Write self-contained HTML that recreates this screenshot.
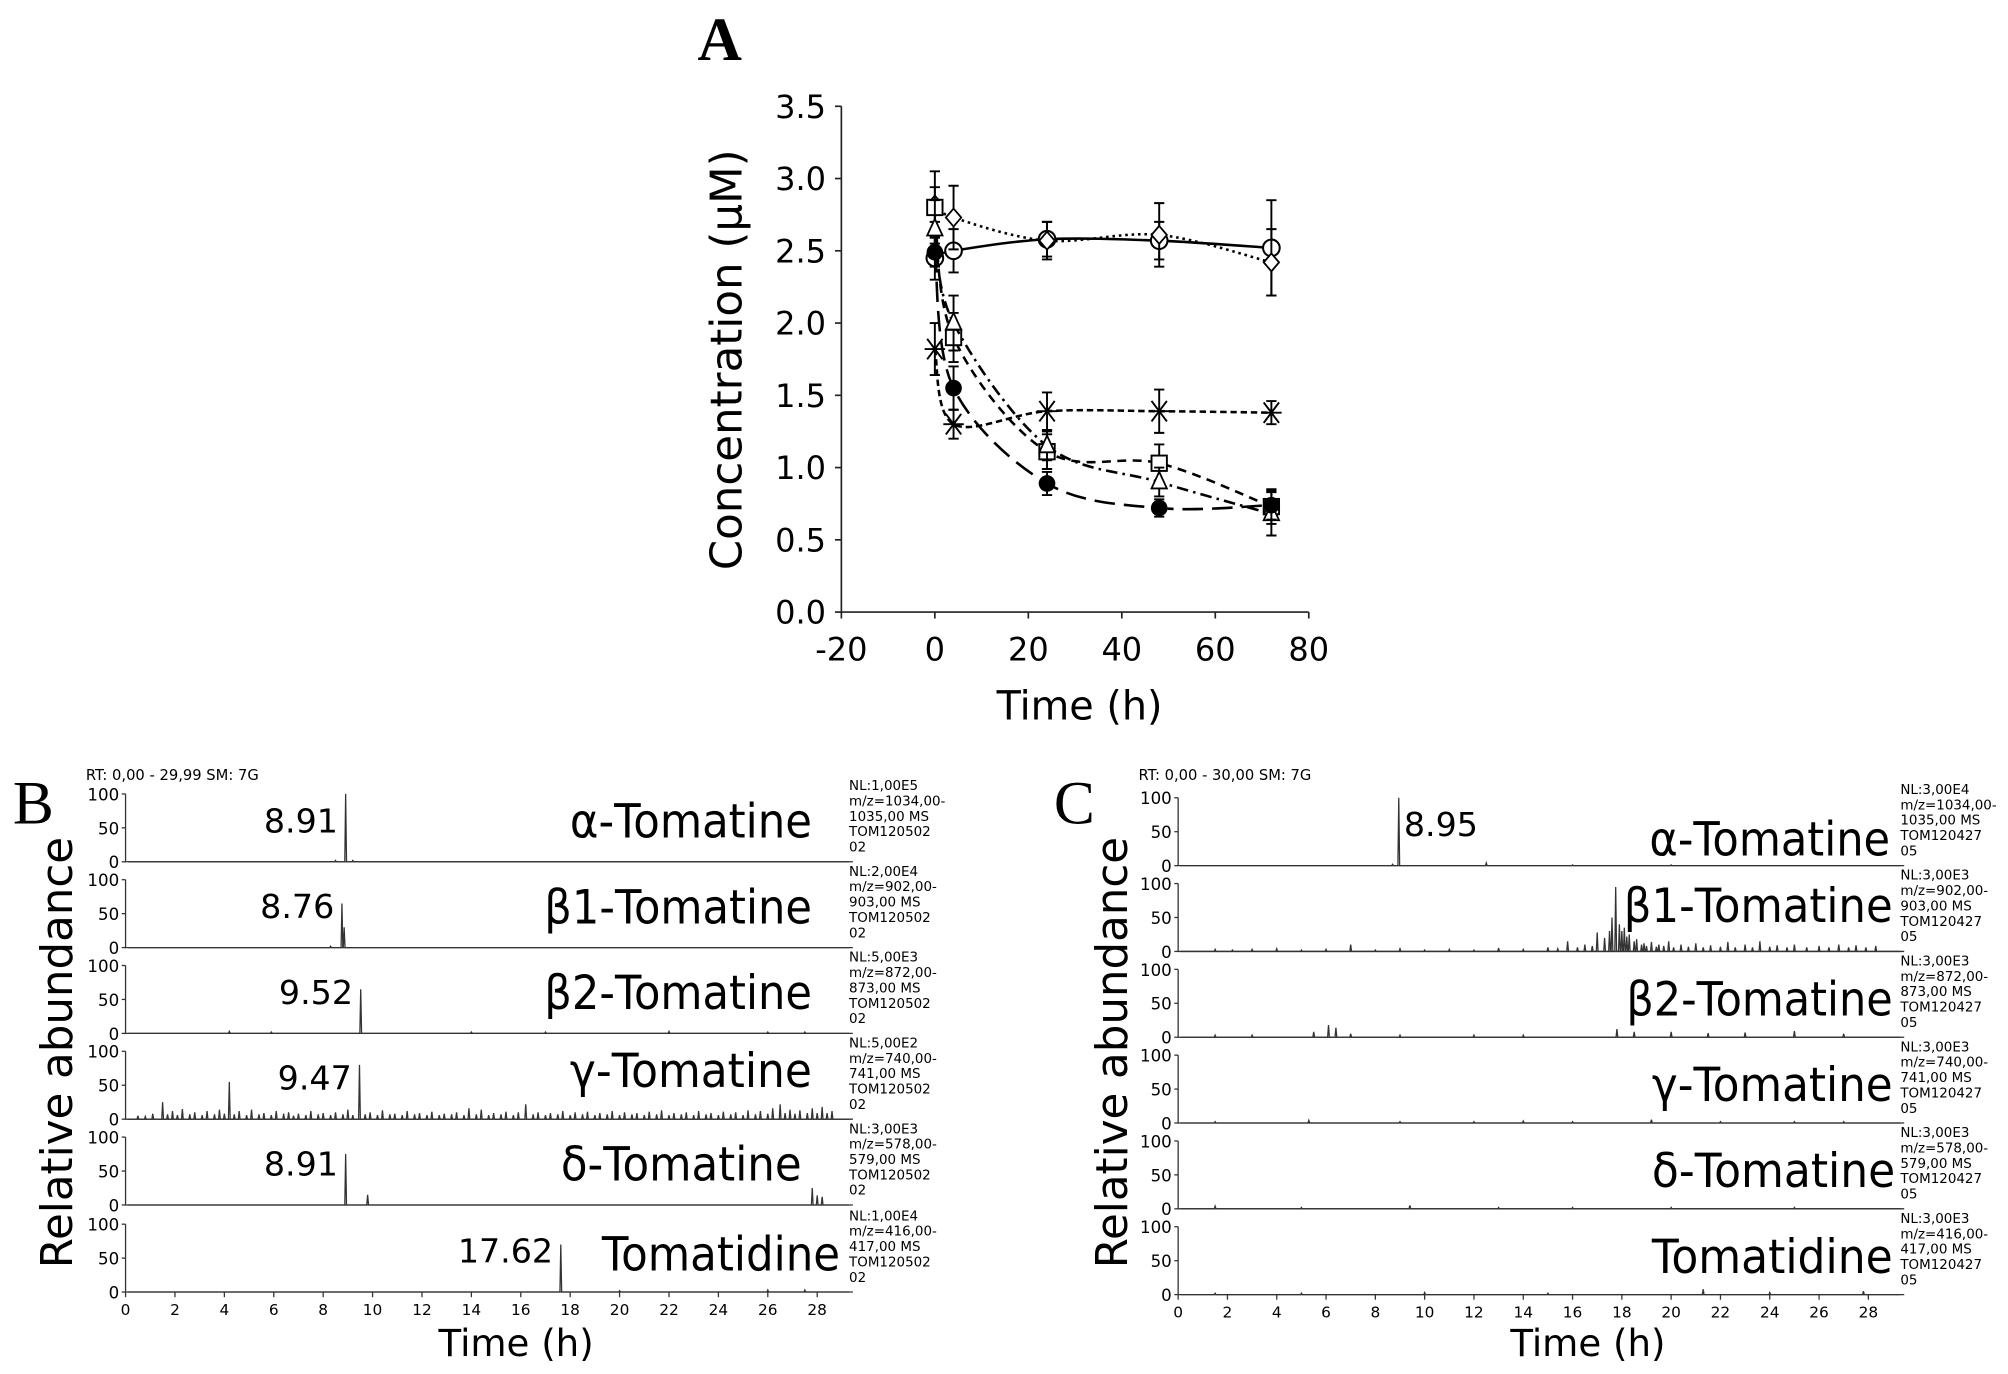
<!DOCTYPE html>
<html><head><meta charset="utf-8">
<style>
html,body{margin:0;padding:0;background:#fff;}
svg{display:block;}
text{fill:#000;}
</style></head>
<body>
<svg id="fig" width="2008" height="1374" viewBox="0 0 1568 1073" xmlns="http://www.w3.org/2000/svg">
<g id="panelA"></g>
<g id="panelB"></g>
<g id="panelC"></g>
</svg>
<script>
// ---------- Panel A data ----------
const timesA = [0, 4, 24, 48, 72];
const circleVals = [2.45, 2.5, 2.58, 2.57, 2.52];
const circleErr = [0.15, 0.15, 0.12, 0.13, 0.33];
const diamondVals = [2.82, 2.73, 2.57, 2.61, 2.42];
const diamondErr = [0.12, 0.22, 0.13, 0.22, 0.23];
const squareVals = [2.8, 1.9, 1.11, 1.03, 0.73];
const squareErr = [0.25, 0.17, 0.12, 0.13, 0.12];
const triangleVals = [2.65, 2.0, 1.15, 0.9, 0.68];
const triangleErr = [0.2, 0.19, 0.1, 0.1, 0.15];
const dotVals = [2.49, 1.55, 0.89, 0.72, 0.74];
const dotErr = [0.1, 0.15, 0.08, 0.06, 0.1];
const crossVals = [1.82, 1.3, 1.39, 1.39, 1.38];
const crossErr = [0.18, 0.1, 0.13, 0.15, 0.08];
const yTicksA = ["0.0","0.5","1.0","1.5","2.0","2.5","3.0","3.5"];
const xTicksA = ["-20","0","20","40","60","80"];

// ---------- Panels B/C data ----------
const compounds = ["α-Tomatine","β1-Tomatine","β2-Tomatine","γ-Tomatine","δ-Tomatine","Tomatidine"];
const nlB = ["NL:1,00E5","NL:2,00E4","NL:5,00E3","NL:5,00E2","NL:3,00E3","NL:1,00E4"];
const mzB = ["m/z=1034,00-","m/z=902,00-","m/z=872,00-","m/z=740,00-","m/z=578,00-","m/z=416,00-"];
const mz2B = ["1035,00 MS","903,00 MS","873,00 MS","741,00 MS","579,00 MS","417,00 MS"];
const nlC = ["NL:3,00E4","NL:3,00E3","NL:3,00E3","NL:3,00E3","NL:3,00E3","NL:3,00E3"];
const peakLabelsB = ["8.91","8.76","9.52","9.47","8.91","17.62"];
const peakLabelTimesB = [8.91, 8.76, 9.52, 9.47, 8.91, 17.62];
const tracesB = [
  [[8.5,2],[8.91,100],[9.2,2]],
  [[8.3,2],[8.76,65],[8.85,30]],
  [[4.2,3],[5.9,2],[9.52,65],[14,2],[17,2],[22,3],[26,2],[27.5,2]],
  [[0.5,5],[0.8,4],[1.1,8],[1.5,25],[1.7,7],[1.9,12],[2.1,6],[2.3,15],[2.6,7],[2.8,10],[3.1,6],[3.3,12],[3.6,7],[3.8,14],[4.0,8],[4.2,55],[4.4,7],[4.6,12],[4.9,6],[5.1,14],[5.4,7],[5.6,9],[5.9,6],[6.1,12],[6.4,8],[6.6,10],[6.8,5],[7.0,8],[7.3,6],[7.5,12],[7.8,7],[8.0,9],[8.3,6],[8.5,10],[8.8,7],[9.0,14],[9.2,6],[9.47,80],[9.7,7],[9.9,10],[10.2,6],[10.4,13],[10.7,7],[10.9,8],[11.2,6],[11.4,12],[11.7,7],[11.9,9],[12.2,6],[12.4,11],[12.7,6],[12.9,8],[13.2,7],[13.4,10],[13.7,6],[13.9,16],[14.2,7],[14.4,14],[14.7,6],[14.9,9],[15.2,7],[15.4,11],[15.7,6],[15.9,10],[16.2,22],[16.5,7],[16.7,10],[17.0,6],[17.2,9],[17.5,7],[17.7,12],[18.0,6],[18.2,10],[18.5,7],[18.7,11],[19.0,6],[19.2,9],[19.5,7],[19.7,12],[20.0,6],[20.2,10],[20.5,7],[20.7,9],[21.0,6],[21.2,11],[21.5,7],[21.7,13],[22.0,6],[22.2,9],[22.5,7],[22.7,10],[23.0,6],[23.2,12],[23.5,7],[23.7,9],[24.0,6],[24.2,11],[24.5,7],[24.7,10],[25.0,6],[25.2,13],[25.5,7],[25.7,12],[26.0,8],[26.2,16],[26.5,22],[26.7,9],[26.9,14],[27.1,8],[27.3,13],[27.6,9],[27.8,16],[28.0,9],[28.2,18],[28.4,9],[28.6,12]],
  [[8.91,75],[9.8,15],[27.8,25],[28.0,14],[28.2,12]],
  [[17.62,70],[20,2],[26,3],[27.5,3]]
];
const tracesC = [
  [[8.7,2],[8.95,100],[12.5,4],[16,1],[20,1]],
  [[1.5,3],[2.2,2],[3,3],[4,4],[5,2],[6,3],[7,10],[8,2],[9,4],[10,2],[11,3],[12,2],[13,5],[14,3],[15,6],[15.4,4],[15.8,15],[16.2,6],[16.5,10],[16.8,8],[17.0,28],[17.3,20],[17.5,30],[17.6,50],[17.75,95],[17.9,40],[18.0,30],[18.1,35],[18.2,22],[18.3,25],[18.5,15],[18.6,18],[18.8,10],[18.9,12],[19.0,8],[19.2,14],[19.4,7],[19.5,10],[19.7,8],[19.9,15],[20.1,6],[20.4,10],[20.7,7],[21,12],[21.3,6],[21.6,9],[22.0,7],[22.3,14],[22.6,6],[23,10],[23.3,6],[23.6,15],[24.0,7],[24.3,9],[24.7,6],[25,10],[25.5,6],[26,8],[26.4,6],[26.8,10],[27.2,6],[27.5,9],[27.9,6],[28.3,8]],
  [[1.5,3],[3,3],[5.5,8],[6.1,18],[6.4,14],[7,5],[9,3],[12,3],[14,3],[17.8,12],[18.5,8],[20,8],[21.5,6],[23,7],[25,9],[27,5]],
  [[1.5,2],[5.3,4],[9,2],[12,2],[14,3],[16,2],[19.2,5],[22,2],[25,2],[27,2]],
  [[1.5,4],[5,2],[9.4,5],[13,2],[16,2],[20,2],[25,2]],
  [[1.5,2],[5,2],[10,3],[15,2],[21.3,8],[24,3],[27.8,5]]
];
const xTicksChrom = [0,2,4,6,8,10,12,14,16,18,20,22,24,26,28];

const NS = "http://www.w3.org/2000/svg";
const SANS = 'font-family:"DejaVu Sans","Liberation Sans",sans-serif;';
const SERIF = 'font-family:"Liberation Serif",serif;';
function mk(parent, tag, attrs, txt){
  const e = document.createElementNS(NS, tag);
  for (const k in attrs) e.setAttribute(k, attrs[k]);
  if (tag==='text' && !attrs.style) e.setAttribute('style', SANS);
  if (txt !== undefined) e.textContent = txt;
  parent.appendChild(e);
  return e;
}

// ---------- Panel A ----------
(function(){
  const g = document.getElementById('panelA');
  const X0 = 657, X1 = 1022, Y0 = 478, Y1 = 83;
  const xs = v => X0 + (v + 20) / 100 * (X1 - X0);
  const ys = v => Y0 - v / 3.5 * (Y0 - Y1);
  let t = mk(g,'text',{x:562,y:47,style:SERIF,'font-weight':'bold','font-size':48,'text-anchor':'middle'},'A');
   
  let ax = mk(g,'path',{d:`M${X0},${Y1} V${Y0} H${X1}`,stroke:'#222',fill:'none','stroke-width':1.3});
   
  yTicksA.forEach((lab)=>{
    const y = ys(parseFloat(lab));
    mk(g,'line',{x1:X0-5,x2:X0,y1:y,y2:y,stroke:'#222','stroke-width':1.3});
    const e = mk(g,'text',{x:X0-12,y:y+9,'font-size':25,'text-anchor':'end'},lab);
     
  });
  xTicksA.forEach((lab)=>{
    const x = xs(parseFloat(lab));
    mk(g,'line',{x1:x,x2:x,y1:Y0,y2:Y0+5,stroke:'#222','stroke-width':1.3});
    const e = mk(g,'text',{x:x,y:Y0+38,'font-size':25,'text-anchor':'middle'},lab);
     
  });
  t = mk(g,'text',{x:843,y:562,'font-size':31,'text-anchor':'middle'},'Time (h)');
   
  t = mk(g,'text',{x:0,y:0,'font-size':34,'text-anchor':'middle',transform:`translate(579,281) rotate(-90)`},'Concentration (μM)');
   

  function curve(pts){
    let d = `M${pts[0][0]},${pts[0][1]}`;
    for (let i=0;i<pts.length-1;i++){
      const p0=pts[Math.max(0,i-1)],p1=pts[i],p2=pts[i+1],p3=pts[Math.min(pts.length-1,i+2)];
      const c1=[p1[0]+(p2[0]-p0[0])/6,p1[1]+(p2[1]-p0[1])/6];
      const c2=[p2[0]-(p3[0]-p1[0])/6,p2[1]-(p3[1]-p1[1])/6];
      d+=` C${c1[0]},${c1[1]} ${c2[0]},${c2[1]} ${p2[0]},${p2[1]}`;
    }
    return d;
  }
  const series = [
    {name:'circle',vals:circleVals,err:circleErr,dash:'',marker:'circle'},
    {name:'diamond',vals:diamondVals,err:diamondErr,dash:'2,3',marker:'diamond'},
    {name:'square',vals:squareVals,err:squareErr,dash:'7,5',marker:'square'},
    {name:'triangle',vals:triangleVals,err:triangleErr,dash:'9,4,2,4',marker:'triangle'},
    {name:'dot',vals:dotVals,err:dotErr,dash:'16,7',marker:'dot'},
    {name:'cross',vals:crossVals,err:crossErr,dash:'5,3',marker:'cross'}
  ];
  series.forEach(s=>{
    const sg = mk(g,'g',{});
     
    const pts = timesA.map((tt,i)=>[xs(tt),ys(s.vals[i])]);
    const ln = mk(sg,'path',{d:curve(pts),fill:'none',stroke:'#000','stroke-width':2,'stroke-dasharray':s.dash});
     
    timesA.forEach((tt,i)=>{
      const x = xs(tt), y = ys(s.vals[i]), e1 = ys(s.vals[i]+s.err[i]), e2 = ys(s.vals[i]-s.err[i]);
      const eb = mk(sg,'path',{d:`M${x},${e1} V${e2} M${x-4},${e1} H${x+4} M${x-4},${e2} H${x+4}`,stroke:'#000','stroke-width':1.5,fill:'none'});
       
      let m;
      if (s.marker==='circle') m = mk(sg,'circle',{cx:x,cy:y,r:6.5,fill:'#fff',stroke:'#000','stroke-width':1.6});
      else if (s.marker==='dot') m = mk(sg,'circle',{cx:x,cy:y,r:6.5,fill:'#000'});
      else if (s.marker==='diamond') m = mk(sg,'path',{d:`M${x},${y-7} L${x+6},${y} L${x},${y+7} L${x-6},${y} Z`,fill:'#fff',stroke:'#000','stroke-width':1.4});
      else if (s.marker==='square') m = mk(sg,'rect',{x:x-6,y:y-6,width:12,height:12,fill:'#fff',stroke:'#000','stroke-width':1.5});
      else if (s.marker==='triangle') m = mk(sg,'path',{d:`M${x},${y-8} L${x+6},${y+5} L${x-6},${y+5} Z`,fill:'#fff',stroke:'#000','stroke-width':1.4});
      else m = mk(sg,'path',{d:`M${x-6},${y-8} L${x+6},${y+8} M${x+6},${y-8} L${x-6},${y+8} M${x-8},${y} H${x+8}`,stroke:'#000','stroke-width':1.5,fill:'none'});
       
    });
  });
})();

// ---------- Chromatogram panels ----------
function chromPanel(gid, cfg){
  const g = document.getElementById(gid);
  const xs = v => cfg.x0 + v * cfg.unit;
  let t = mk(g,'text',{x:cfg.letterX,y:643,style:SERIF,'font-size':48},cfg.letter);
   
  t = mk(g,'text',{x:cfg.x0-31,y:609,'font-size':11.5},cfg.rt);
   
  t = mk(g,'text',{x:0,y:0,'font-size':34,'text-anchor':'middle',transform:`translate(${cfg.ylabX},822) rotate(-90)`},'Relative abundance');
   
  cfg.bases.forEach((base,i)=>{
    const top = base - 53;
    const yv = v => base - v/100*53;
    const sg = mk(g,'g',{});
     
    mk(sg,'path',{d:`M${cfg.x0},${top} V${base} H${cfg.xEnd}`,stroke:'#333',fill:'none','stroke-width':1});
    [0,50,100].forEach(v=>{
      mk(sg,'line',{x1:cfg.x0-3,x2:cfg.x0,y1:yv(v),y2:yv(v),stroke:'#333','stroke-width':1});
      const e = mk(sg,'text',{x:cfg.x0-5,y:yv(v)+5,'font-size':13,'text-anchor':'end'},String(v));
       
    });
    const peaks = cfg.traces[i].slice().sort((a,b)=>a[0]-b[0]);
    let d = `M${cfg.x0+2},${base}`;
    const w = 0.035*cfg.unit;
    peaks.forEach(p=>{ const x = xs(p[0]); d += ` L${x-w},${base} L${x},${yv(p[1])} L${x+w},${base}`; });
    d += ` L${xs(29.3)},${base}`;
    const pk = mk(sg,'path',{d:d,fill:'none',stroke:'#333','stroke-width':1});
     
    if (cfg.labels[i]){
      const e = mk(sg,'text',{x:xs(cfg.labelTimes[i])-(cfg.labelRight?-4:6),y:top+30,'font-size':26,'text-anchor':cfg.labelRight?'start':'end'},cfg.labels[i]);
       
    }
    const c = mk(sg,'text',{x:cfg.nameEnd[i]-cfg.nameW[i],y:top+cfg.nameDy[i],'font-size':37,textLength:cfg.nameW[i],lengthAdjust:'spacingAndGlyphs'},compounds[i]);
     
    const info = [cfg.nl[i], mzB[i], mz2B[i], cfg.tom, cfg.tom2];
    info.forEach((s,k)=>{
      const e = mk(sg,'text',{x:cfg.infoX,y:top-3+k*12,'font-size':10.5},s);
       
    });
  });
  const base = cfg.bases[cfg.bases.length-1];
  xTicksChrom.forEach(v=>{
    const x = xs(v);
    mk(g,'line',{x1:x,x2:x,y1:base,y2:base+4,stroke:'#333','stroke-width':1});
    const e = mk(g,'text',{x:x,y:base+18,'font-size':12,'text-anchor':'middle'},String(v));
     
  });
  t = mk(g,'text',{x:cfg.timeX,y:1059,'font-size':29,'text-anchor':'middle'},'Time (h)');
   
}
chromPanel('panelB',{letter:'B',letterX:10,rt:'RT: 0,00 - 29,99  SM: 7G',ylabX:56,x0:98,unit:19.29,xEnd:666,
  bases:[673,740,807,874,941,1009],traces:tracesB,labels:peakLabelsB,labelTimes:peakLabelTimesB,labelRight:false,
  nameEnd:[634,634,634,634,626,656],nameW:[189,209,209,189,188,186],
  nameDy:[34,34,34,28,34,36],nl:nlB,infoX:663,tom:'TOM120502',tom2:'02',timeX:403});
chromPanel('panelC',{letter:'C',letterX:823,rt:'RT: 0,00 - 30,00 SM: 7G',ylabX:880,x0:920,unit:19.25,xEnd:1487,
  bases:[676,743,810,877,944,1011],traces:tracesC,labels:['8.95','','','','',''],labelTimes:[8.95,0,0,0,0,0],labelRight:true,
  nameEnd:[1476,1478,1478,1478,1480,1478],nameW:[188,210,208,188,190,188],
  nameDy:[45,30,36,36,36,36],nl:nlC,infoX:1484,tom:'TOM120427',tom2:'05',timeX:1240});
</script>
</body></html>
